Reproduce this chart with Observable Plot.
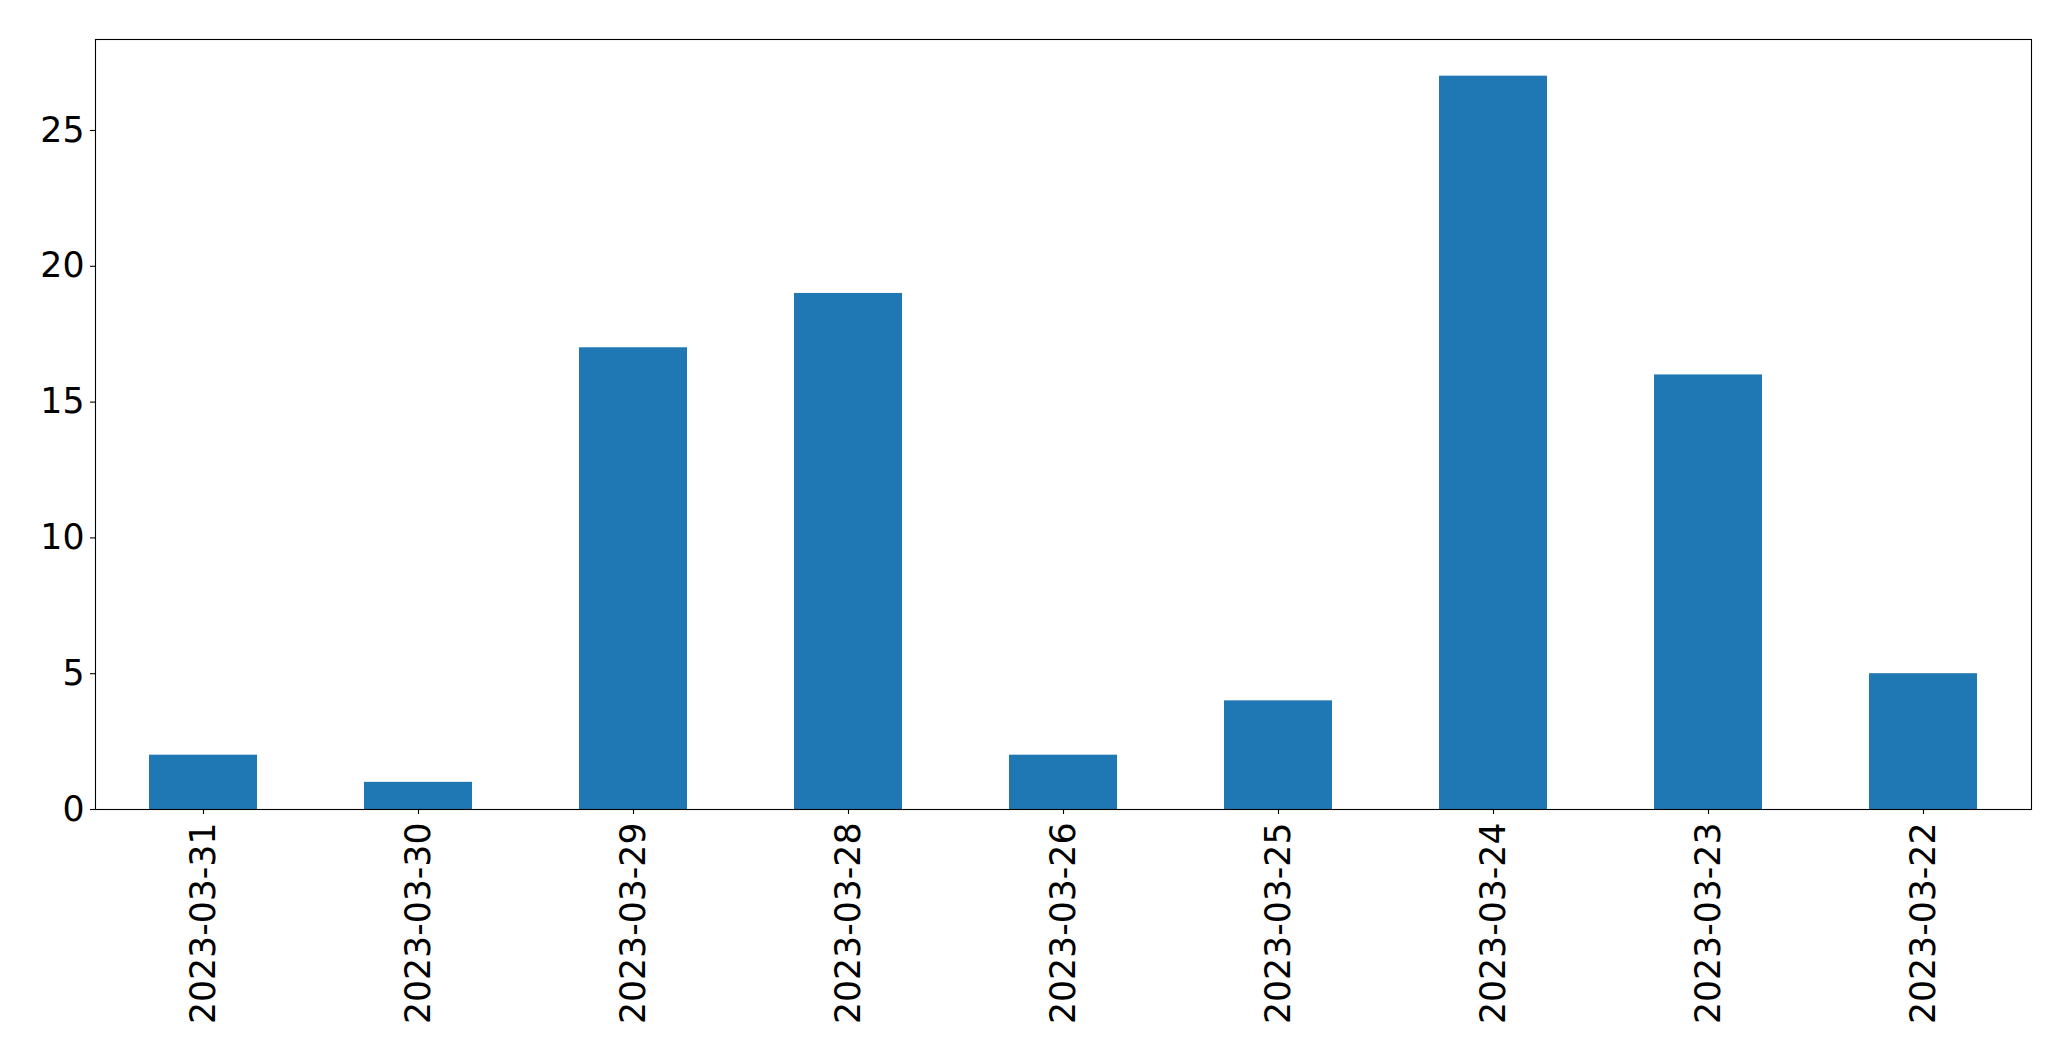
<!DOCTYPE html>
<html>
<head>
<meta charset="utf-8">
<script src="https://cdn.jsdelivr.net/npm/d3@7"></script>
<script src="https://cdn.jsdelivr.net/npm/@observablehq/plot@0.6"></script>
<style>
  html, body { margin: 0; padding: 0; background: #fff; }
  svg { display: block; }
</style>
</head>
<body>
<div id="chart"></div>
<script>
const dates = ["2023-03-31", "2023-03-30", "2023-03-29", "2023-03-28", "2023-03-26", "2023-03-25", "2023-03-24", "2023-03-23", "2023-03-22"];
const counts = [2, 1, 17, 19, 2, 4, 27, 16, 5];
const yTicks = [0, 5, 10, 15, 20, 25];

const data = dates.map((d, i) => ({date: d, count: counts[i]}));

const chart = Plot.plot({
  width: 2071,
  height: 1061,
  marginLeft: 95,
  marginRight: 40,
  marginTop: 39,
  marginBottom: 252,
  style: {fontFamily: "DejaVu Sans", fontSize: "34.7px", color: "#000", background: "#fff"},
  x: {domain: dates, paddingInner: 0.5, paddingOuter: 0.25, label: null},
  y: {domain: [0, 28.35], label: null},
  marks: [
    Plot.barY(data, {x: "date", y: "count", fill: "#1f77b4"}),
    Plot.frame({stroke: "#000", strokeWidth: 1.1}),
    Plot.axisY({ticks: yTicks, tickSize: 5, tickPadding: 6, tickFormat: d => String(d), stroke: "#000", strokeWidth: 1.1, fontSize: 34.7, label: null}),
    Plot.axisX({tickSize: 5, tickPadding: 8, tickRotate: -90, stroke: "#000", strokeWidth: 1.1, fontSize: 34.7, label: null})
  ]
});
document.getElementById("chart").appendChild(chart);
</script>
</body>
</html>
